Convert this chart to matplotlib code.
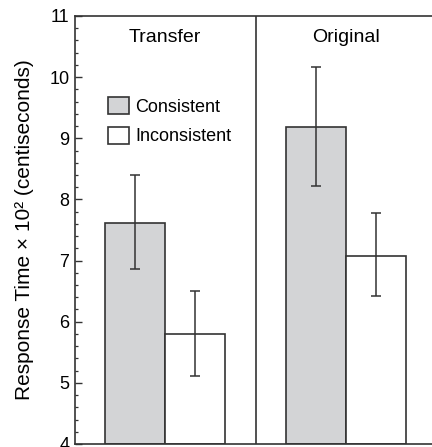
import numpy as np
import matplotlib
matplotlib.use('Agg')
import matplotlib.pyplot as plt
from matplotlib.patches import Patch
from matplotlib.ticker import MultipleLocator

plt.rcParams['font.family'] = ['Liberation Sans', 'DejaVu Sans']

groups = ['Transfer', 'Original']
conditions = ['Consistent', 'Inconsistent']
means = [[7.62, 5.80], [9.19, 7.08]]
err_low = [[6.87, 5.11], [8.22, 6.42]]
err_high = [[8.40, 6.50], [10.17, 7.78]]
colors = ['#d3d4d6', 'white']


def main():
    fig = plt.figure(figsize=(4.32, 4.47), dpi=100)
    ax = fig.add_axes([75 / 432, 3 / 447, 361 / 432, 428 / 447])

    edge = '#333333'
    for g, name in enumerate(groups):
        for c in range(len(conditions)):
            x = 1 + 3 * g + c
            m = means[g][c]
            ax.bar(x, m - 4, bottom=4, width=1.0, color=colors[c],
                   edgecolor=edge, linewidth=1.2, zorder=2)
            ax.errorbar(x, m, yerr=[[m - err_low[g][c]], [err_high[g][c] - m]],
                        fmt='none', ecolor=edge, elinewidth=1.1, capsize=3.5,
                        capthick=1.1, zorder=3)
        ax.text(1.5 + 3 * g, 10.65, name, ha='center', va='center', fontsize=14)

    ax.axvline(3, color=edge, linewidth=1.2)

    ax.set_xlim(0, 6)
    ax.set_ylim(4, 11)
    ax.set_xticks([])
    ax.yaxis.set_major_locator(MultipleLocator(1))
    ax.yaxis.set_minor_locator(MultipleLocator(0.2))
    ax.tick_params(axis='y', which='major', direction='in', length=5,
                   width=1, labelsize=13, color=edge, pad=4)
    ax.tick_params(axis='y', which='minor', direction='in', length=2.5,
                   width=0.9, color=edge)
    ax.spines['right'].set_visible(False)
    for s in ['left', 'top', 'bottom']:
        ax.spines[s].set_color(edge)
        ax.spines[s].set_linewidth(1.2)

    ax.set_ylabel('Response Time \u00d7 10\u00b2 (centiseconds)', fontsize=15,
                  labelpad=11)

    handles = [Patch(facecolor=colors[i], edgecolor=edge, linewidth=1.2)
               for i in range(len(conditions))]
    ax.legend(handles, conditions, loc='upper left',
              bbox_to_anchor=(33 / 361, 347 / 428), frameon=False, fontsize=13,
              handlelength=1.15, handleheight=1.1, handletextpad=0.35,
              labelspacing=0.6, borderpad=0, borderaxespad=0)

    fig.savefig('out.png', dpi=100)


if __name__ == '__main__':
    main()
